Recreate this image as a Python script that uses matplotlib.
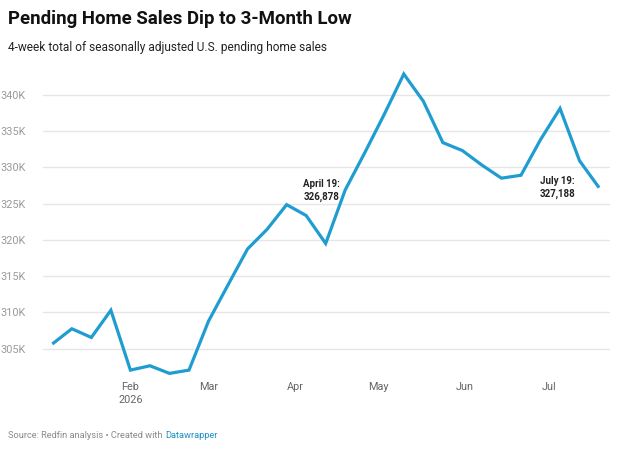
import matplotlib
matplotlib.use("Agg")
import matplotlib.pyplot as plt
import datetime as dt

# ---- data ----
dates = ["2026-01-04", "2026-01-11", "2026-01-18", "2026-01-25",
         "2026-02-01", "2026-02-08", "2026-02-15", "2026-02-22",
         "2026-03-01", "2026-03-08", "2026-03-15", "2026-03-22", "2026-03-29",
         "2026-04-05", "2026-04-12", "2026-04-19", "2026-04-26",
         "2026-05-03", "2026-05-10", "2026-05-17", "2026-05-24", "2026-05-31",
         "2026-06-07", "2026-06-14", "2026-06-21", "2026-06-28",
         "2026-07-05", "2026-07-12", "2026-07-19"]
pending_sales = [305650, 307750, 306550, 310300,
                 302050, 302650, 301600, 302050,
                 308800, 313800, 318750, 321450, 324850,
                 323350, 319500, 326878, 332000,
                 337300, 342850, 339100, 333400, 332300,
                 330300, 328500, 328900, 333800,
                 338100, 330900, 327188]
y_ticks = [305000, 310000, 315000, 320000, 325000, 330000, 335000, 340000]
y_tick_labels = ["305K", "310K", "315K", "320K", "325K", "330K", "335K", "340K"]
x_tick_dates = ["2026-02-01", "2026-03-01", "2026-04-01", "2026-05-01", "2026-06-01", "2026-07-01"]
x_tick_labels = ["Feb\n2026", "Mar", "Apr", "May", "Jun", "Jul"]
annotations = [("2026-04-19", 326878, "April 19:\n326,878"),
               ("2026-07-19", 327188, "July 19:\n327,188")]

title = "Pending Home Sales Dip to 3-Month Low"
subtitle = "4-week total of seasonally adjusted U.S. pending home sales"

# ---- figure ----
W, H = 617, 449
fig = plt.figure(figsize=(W / 100, H / 100), dpi=100)
plt.rcParams['font.family'] = ['Roboto', 'DejaVu Sans']

ax_left, ax_right = 43, 610
ax_top, ax_bottom = 69.3, 385
ax = fig.add_axes([ax_left / W, 1 - ax_bottom / H, (ax_right - ax_left) / W, (ax_bottom - ax_top) / H])

x = [dt.datetime.strptime(d, "%Y-%m-%d") for d in dates]
line_color = "#1f9dd0"
ax.plot(x, pending_sales, color=line_color, lw=2.3, solid_joinstyle="miter", solid_capstyle="butt", zorder=3)

ax.set_ylim(300000, 343500)
ax.set_xlim(dt.datetime(2025, 12, 31, 16), dt.datetime(2026, 7, 22, 22))

ax.set_yticks(y_ticks)
ax.set_yticklabels(y_tick_labels)
ax.set_xticks([dt.datetime.strptime(d, "%Y-%m-%d") for d in x_tick_dates])
ax.set_xticklabels(x_tick_labels, linespacing=1.4)

for s in ax.spines.values():
    s.set_visible(False)
ax.tick_params(axis="both", length=0)
ax.tick_params(axis="y", pad=6.5, labelsize=7.8, labelcolor="#9a9a9a")
ax.tick_params(axis="x", pad=-2.0, labelsize=7.8, labelcolor="#666666")
for lab in ax.get_yticklabels():
    lab.set_horizontalalignment("left")
    lab.set_x(-34 / (ax_right - ax_left))
ax.grid(axis="y", color="#e6e6e6", lw=1.0, zorder=0)
ax.grid(axis="x", visible=False)

# annotations
a_date, a_val, a_txt = annotations[0]
ax.annotate(a_txt, xy=(dt.datetime.strptime(a_date, "%Y-%m-%d"), a_val), xytext=(-4, -0.5),
            textcoords="offset points", ha="right", va="center", fontsize=7.0,
            fontweight="bold", color="#222222", linespacing=1.35)
b_date, b_val, b_txt = annotations[1]
ax.annotate(b_txt, xy=(dt.datetime.strptime(b_date, "%Y-%m-%d"), b_val), xytext=(-42.5, 0),
            textcoords="offset points", ha="left", va="center", fontsize=7.0,
            fontweight="bold", color="#222222", linespacing=1.35)

# title / subtitle
fig.text(8 / W, 1 - 18.5 / H, title, ha="left", va="center", fontsize=13.4, fontweight="bold", color="#111111")
fig.text(8 / W, 1 - 48 / H, subtitle, ha="left", va="center", fontsize=8.6, color="#222222")

# source line
t1 = fig.text(8 / W, 1 - 436 / H, "Source: Redfin analysis \u2022 Created with ", ha="left", va="center",
              fontsize=6.7, color="#8a8a8a")
fig.canvas.draw()
bb = t1.get_window_extent(renderer=fig.canvas.get_renderer())
fig.text(bb.x1 / W, 1 - 436 / H, "Datawrapper", ha="left", va="center", fontsize=6.7, color="#1d8fc2")

fig.savefig("out.png", dpi=100)
